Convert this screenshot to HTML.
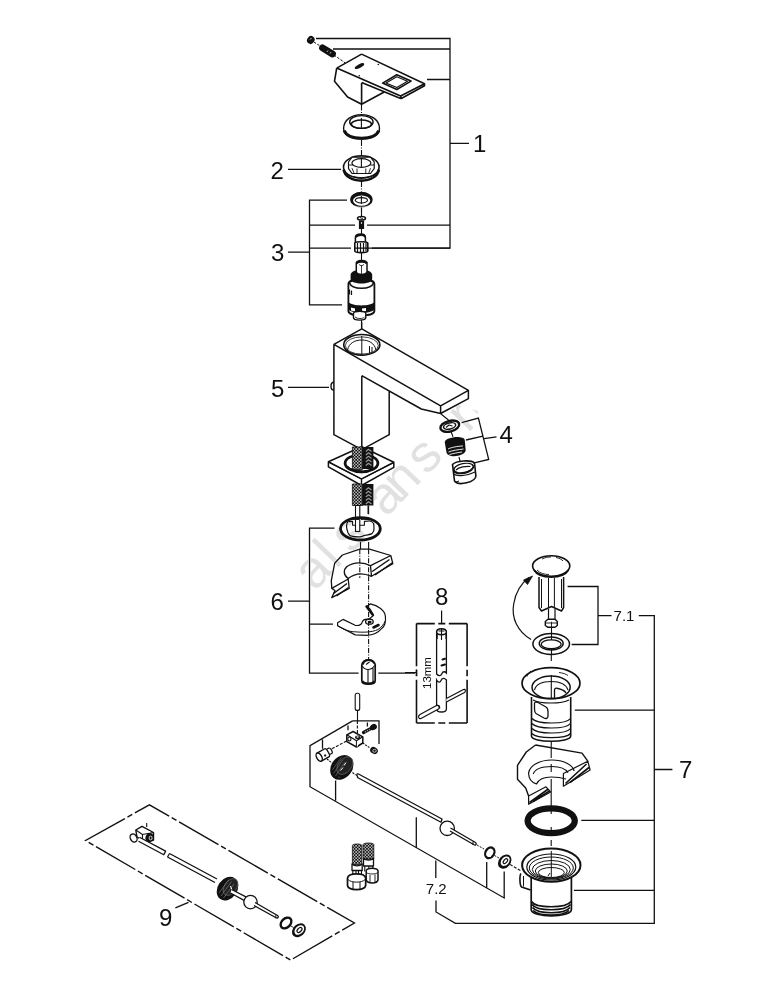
<!DOCTYPE html>
<html><head><meta charset="utf-8">
<style>
html,body{margin:0;padding:0;background:#fff;width:775px;height:1000px;overflow:hidden}
svg{display:block}
text{font-family:"Liberation Sans",sans-serif;fill:#111}
</style></head><body>
<svg width="775" height="1000" viewBox="0 0 775 1000">
<defs>
<pattern id="braid" width="3.1" height="3.1" patternUnits="userSpaceOnUse" x="0.4" y="0.3">
<rect width="3.1" height="3.1" fill="#111"/>
<circle cx="0.78" cy="0.78" r="0.72" fill="#fff"/>
<circle cx="2.33" cy="2.33" r="0.72" fill="#fff"/>
</pattern>
<clipPath id="wmclip"><path d="M0 404H455L478 411V1000H0Z"/></clipPath>
</defs>



<!-- PART: handle (1) -->
<g id="handle" fill="none" stroke="#111" stroke-width="1.6" stroke-linejoin="round">
<ellipse cx="310.8" cy="40" rx="3.6" ry="4.1" transform="rotate(35 310.8 40)" fill="#111" stroke="none"/>
<path d="M310 39.5l1.5 -1.5" stroke="#fff" stroke-width="0.9"/>
<path d="M322.5 47.8L332.5 54" stroke="#111" stroke-width="6.8" stroke-linecap="round"/>
<path d="M327 52L328 50.5M330 53.5L331 52" stroke="#fff" stroke-width="0.7"/>
<path d="M313.9 42L320 46M334 55L345.2 62.9" stroke-width="1" stroke-dasharray="2.5 1.5"/>
<path d="M361.6 54.1L424.5 83.7V85.8L401.3 98.5L400.6 96L424.5 83.7M336.7 68.1L361.6 54.1M336.7 68.1L400.6 96M361.6 82.6L400.6 98.4"/>
<path d="M336.7 68.1L334.5 81.2L347.6 97L361.6 104.2L384.2 92M361.6 83V104.2"/>
<path d="M382.6 83.1L396.8 74.7L411 81.1L396.8 89.5Z"/>
<path d="M386 83L396.8 76.8L407.5 81.2L396.8 87.4Z" stroke-width="1.1"/>
<ellipse cx="359.5" cy="66.1" rx="5.2" ry="1.8" transform="rotate(-27 359.5 66.1)" fill="#111" stroke="none"/>
<circle cx="378.3" cy="64.5" r="0.8" fill="#111" stroke="none"/>
<circle cx="359.3" cy="75.7" r="0.8" fill="#111" stroke="none"/>
</g>

<!-- PART: rings upper -->
<g id="rings1" fill="none" stroke="#111" stroke-width="1.4">
<path d="M361.5 104.5V115M361.5 140V155.5M361.5 181V191.5M361.5 208V212" stroke-width="1.1" stroke-dasharray="6 1.5 1 1.5"/>
<path d="M343.6 128.5C343.6 120 351.5 114.6 361.5 114.6S379.5 120 379.5 128.5C379.5 135 371.5 139 361.5 139S343.6 135 343.6 128.5Z" fill="#fff"/>
<path d="M344.2 130.5C346 135.5 353 138.2 361.5 138.2S377 135.5 378.8 130.5" stroke-width="3"/>
<ellipse cx="361.4" cy="122" rx="11.7" ry="6.4"/>
<ellipse cx="361.4" cy="124.2" rx="10" ry="4.2"/>
<path d="M361.4 118V128" stroke-width="1.1"/>
<!-- nut 2 -->
<ellipse cx="361.3" cy="167" rx="17.8" ry="11.2" fill="#fff" stroke-width="1.6"/>
<path d="M343.7 169.5C344.5 176 352 180.6 361.3 180.6S378 176 378.9 169.5" stroke-width="2.6"/>
<path d="M345 172C348 175.5 354 177.5 361.3 177.5S374.5 175.5 377.5 172" stroke-width="1"/>
<path d="M348.5 162L352 157.2H370.5L374.2 162V168.5L370.5 173.5H352L348.5 168.5Z" fill="#fff" stroke-width="1.2"/>
<path d="M348.5 165H374.2M352 168.2L354 173M370.5 168.2L368.8 173M357 168.5V173.5M365.8 168.5V173.5" stroke-width="0.9"/>
<ellipse cx="361.4" cy="163" rx="9.5" ry="4.3" fill="#fff" stroke-width="1.2"/>
<path d="M361.4 159V167" stroke-width="1.1"/>
<!-- small ring 3 -->
<ellipse cx="361.4" cy="199.7" rx="11.2" ry="7.9" fill="#111" stroke="none"/>
<ellipse cx="361.6" cy="200.6" rx="8.6" ry="5.2" fill="#fff" stroke="none"/>
<ellipse cx="361.4" cy="200.2" rx="6.6" ry="3.3" fill="#111" stroke="none"/>
<ellipse cx="361.4" cy="200.3" rx="5.6" ry="2.1" fill="#fff" stroke="none"/>
<path d="M351.5 204C354 206.5 358 207.2 361.4 207.2S369 206.5 371.3 204" stroke="#fff" stroke-width="0.7"/>
<path d="M361.4 196V204" stroke-width="1.1"/>
</g>

<!-- PART: screw, hex, cartridge -->
<g id="cart" fill="none" stroke="#111" stroke-width="1.4">
<path d="M361.5 207.5V216M361.5 228V235M361.5 253V261M361.5 320V329" stroke-width="1.1"/>
<path d="M357.5 218.5C357.5 215.8 365.5 215.8 365.5 218.5C365.5 220.5 357.5 220.5 357.5 218.5Z" fill="#fff" stroke-width="1.5"/>
<path d="M360 217.5L363 219" stroke-width="0.9"/>
<path d="M359.5 220.5V228.5H363.5V220.5" fill="#111" stroke-width="1.2"/>
<path d="M360.6 223l0.9 -0.9 0.9 0.9 -0.9 0.9z" fill="#fff" stroke="none"/>
<path d="M355.4 237.5C355.4 234.5 358 234 361 234S365.4 235 365.4 237.5V242.5H355.4Z" fill="#fff" stroke-width="1.5"/>
<path d="M355.6 237C357 235.5 359 235 361 235S364.5 235.5 365.2 237" stroke-width="2"/>
<path d="M354.8 243C354.8 241.5 367.8 241 367.8 243V251C367.8 253.2 354.8 253.2 354.8 251Z" fill="#fff" stroke-width="1.6"/>
<path d="M357.5 243V252M360.5 243V252.5M363.5 243V252.5M366 243V251.5" stroke-width="1.2"/>
<!-- cartridge -->
<path d="M348.4 284C348.4 278 374.4 278 374.4 284V311C374.4 317 348.4 317 348.4 311Z" fill="#fff" stroke-width="1.8"/>
<path d="M350.6 275C350.6 268 372.2 268 372.2 275V279C372.2 285 350.6 285 350.6 279Z" fill="#111" stroke="none"/>
<path d="M349.5 283C352 290 371 290 373.5 283" stroke-width="1.6"/>
<path d="M356.3 263.5C356.3 259.5 367 259.5 367 263.5V272.5C365 275 358 275 356.3 272.5Z" fill="#fff" stroke-width="1.5"/>
<path d="M356.5 263.5C358 261 365.5 261 366.8 263.5" stroke-width="2.4"/>
<path d="M361.5 265V274M359 264.5L361.5 266L364 264.5" stroke-width="0.8"/>
<path d="M348.4 302C352 306.5 371 306.5 374.4 302V309.5C371 314 352 314 348.4 309.5Z" fill="#111" stroke="none"/>
<path d="M351 307.5L355 308.5V311.5L351 310.5Z" fill="#fff" stroke="none"/>
<path d="M362 308.5L366 308V311L362 311.5Z" fill="#fff" stroke="none"/>
<path d="M353.5 313.5C353.5 310.5 365.8 310.5 365.8 313.5V317.5C365.8 321 353.5 321 353.5 317.5Z" fill="#fff" stroke-width="1.4"/>
<path d="M355 317C357 319 363 319 364.5 317" stroke-width="0.9"/>
<path d="M349.5 289.5V294.5M351.5 290.5V295" stroke-width="1.2"/>
</g>

<!-- PART: faucet body -->
<g id="body" fill="none" stroke="#111" stroke-width="1.5" stroke-linejoin="round">
<path d="M361.8 328.8L468.4 390.3V398.7L440.6 413.5L421.3 409L389 391.2V434.7L361.8 449.7L333.9 434.7V344.3Z" fill="#fff" stroke="none"/>
<path d="M361.8 328.8L468.4 390.3V398.7L440.6 413.5V405.8L468.4 390.3M333.9 344.3L361.8 328.8M333.9 344.3L440.6 405.8M333.9 344.3V434.7L361.8 449.7L389.2 434.7V391M361.8 375.7V449.7M361.8 375.7L421.3 409L440.6 413.5"/>
<ellipse cx="361.8" cy="344.8" rx="18.1" ry="10.3" stroke-width="1.6"/>
<ellipse cx="361.8" cy="345.5" rx="16.5" ry="8.6" stroke-width="0.8"/>
<path d="M347.5 350C349 343 355 340 361.8 340S374.5 343 376 350" stroke-width="1"/>
<path d="M346.6 349.5C350 354 355.5 355 361.8 355" stroke-width="0.8"/>
<path d="M361.8 336V355M369.5 346V353.5M372 347V353" stroke-width="1"/>
<path d="M333.9 382.3C330 382.3 330 390 333.9 390" stroke-width="1.4"/>
<path d="M361.8 322V329" stroke-width="1.2"/>
</g>
<!-- PART: base plate + hoses -->
<g id="plate" fill="none" stroke="#111" stroke-width="1.4" stroke-linejoin="round">
<path d="M328.4 461.8L361.6 446.8L393.8 462.3V467.4L361.5 485.5L328.4 466.8Z" fill="#fff" stroke-width="1.5"/>
<path d="M328.4 461.8L361.5 479L393.8 462.3M361.5 479V485.5"/>
<ellipse cx="361.5" cy="463.2" rx="16.4" ry="8.6" stroke-width="2.8"/>
<path d="M348 466C350 469.5 355 470.6 361.5 470.6" stroke-width="0.8"/>
<rect x="352.4" y="447" width="10" height="22.5" fill="url(#braid)" stroke="#111" stroke-width="0.8"/>
<rect x="362.2" y="447" width="11.2" height="22" fill="#111" stroke="none"/>
<rect x="352.4" y="484" width="10" height="21.5" fill="url(#braid)" stroke="#111" stroke-width="0.8"/>
<rect x="362.2" y="484" width="11.2" height="21.5" fill="#111" stroke="none"/>

<g stroke="#9a9a9a" stroke-width="1.1" fill="none">
<path d="M365.8 451.5L368.5 449.3L371.5 451.5M365.8 455L368.5 452.8L371.5 455M365.8 458.5L368.5 456.3L371.5 458.5M365.8 462L368.5 459.8L371.5 462M365.8 465.5L368.5 463.3L371.5 465.5M365.8 490L368.5 487.8L371.5 490M365.8 493.5L368.5 491.3L371.5 493.5M365.8 497L368.5 494.8L371.5 497M365.8 500.5L368.5 498.3L371.5 500.5M365.8 504L368.5 501.8L371.5 504"/>
</g>
<path d="M328.4 461.8L361.5 479L393.8 462.3" stroke-width="1.4"/>
<circle cx="361.5" cy="472" r="1.3" fill="#111" stroke="none"/>
<path d="M356.3 505.5V531M359.5 505.5V531M368 505.5V514" stroke-width="1"/>
</g>

<!-- PART: group 6 -->
<g id="g6" fill="none" stroke="#111" stroke-width="1.3" stroke-linejoin="round">
<path d="M355.5 505.5H359.8V531.5H355.5Z" fill="#fff" stroke-width="1.1"/>
<path d="M368.6 505.5V514.3" stroke-width="1.1"/>
<path d="M347.6 521.8C346.5 524 346.5 529 348 532.7C349 535 350 536 351.8 536.1C355 537 358 537 360.2 536.9C362 536.5 364 535.5 366 535.2C368 534.7 370 534.5 372 533.6C373.5 532 374.2 530 374 528.5C374 526.5 374 525 373.6 523.5C372.5 522 371 521 369.4 521" stroke-width="1.2"/>
<path d="M347.6 521.8L352.6 521.4V525.2H355.2M359.8 525.2H364.4V521.4L369.4 521M349 519.8C352 519 356 519.2 359 519.5M361 519.4C364 519.2 367 519.4 370 519.8" stroke-width="1.1"/>
<ellipse cx="360.4" cy="528.8" rx="19.9" ry="11.2" stroke-width="2.8"/>
<path d="M360.5 542V549M368.6 542V549" stroke-width="1.1"/>
<!-- countertop piece -->
<path d="M342.4 555L359.8 549.2H369.5L390.8 555.5L392.8 563.7L371.5 576.3C365 574 356 572.5 348.2 577.8L349.2 588.4L331.8 597.6L331.3 580.7L334.7 563.2Z" fill="#fff" stroke="none"/>
<path d="M342.4 555L359.8 549.2H369.5L390.8 555.5M342.4 555L334.7 563.2L331.3 580.7L331.8 588.4"/>
<path d="M390.8 555.5L392.8 563.7L371.5 576.3L370.5 565.7L390.8 555.5M370.5 565.7C364 562 354 561.5 347 566.5C343 570 343.5 575.5 348.2 578.5C355 573 364 573 371.5 576.3"/>
<path d="M331.8 588.4L348.2 579L349.2 588.4L331.8 597.6L335 590.5Z"/>
<path d="M372.2 571.5L389.5 559.5M375 575L392 563M333.5 593.5L347 583.5M336.5 596L348.5 587.5" stroke-width="1.5"/>
<path d="M359.8 549.2V578M368.6 549.2V603" stroke-width="1.1" stroke-dasharray="5 1.5 1 1.5"/>
<!-- C clip -->
<path d="M337.6 622.7L343 619.4L355.2 625.3C359 626 362 624.5 362.2 622C363 619.5 366 618.8 369 619.2L373.6 615.2L370 609L366.5 606.5L370.3 603.9C378 605.5 385 610.5 385.4 616.5C386 622 384 626.5 382 628.2C378 633 372 635.3 366.9 635.3L355.2 634.9L337.6 625.7Z" fill="#fff" stroke-width="1.2"/>
<path d="M337.6 625.7C343 629.5 350 632 355.2 631.8C362 632.5 372 632.5 378 629.5C381.5 627 383.5 625 385.2 621" stroke-width="1"/>
<ellipse cx="369.4" cy="621.7" rx="3.8" ry="2.5" stroke-width="1.3"/>
<ellipse cx="369.6" cy="622" rx="2" ry="1.2" fill="#111" stroke="none"/>
<path d="M373.5 627.5L378.5 625" stroke-width="2.6" stroke-linecap="round"/>
<path d="M366.5 606.5L372.5 614.5" stroke-width="2.4" stroke-linecap="round"/>
<path d="M368.6 603V661" stroke-width="1.1" stroke-dasharray="5 1.5 1 1.5"/>
<!-- nut -->
<path d="M361.8 665C361.8 658.5 375.2 658.5 375.2 665V680.5C375.2 685.5 361.8 685.5 361.8 680.5Z" fill="#fff" stroke-width="1.7"/>
<path d="M362.3 666C364 669 366.5 669.5 368 669.5C370.5 669.5 373 668 374.6 665.5M368 669.5V684.5M373 668V682.5" stroke-width="1.1"/>
<path d="M362.8 664.5C363.5 661 366 660 368.5 660C371.5 660 373.5 661.5 374.2 663.5" stroke-width="2.2"/>
<path d="M366 664.5L369.5 662" stroke-width="1.1"/>
<path d="M362.5 681C364 684 372.5 684.5 374.5 681" stroke-width="1.8"/>
<!-- pin -->
<rect x="355.2" y="693.2" width="4.5" height="17.2" rx="2" fill="#fff" stroke-width="1.1"/>
<path d="M357.5 710.5V721" stroke-width="1.1"/>
</g>

<!-- PART: box 8 -->
<g id="g8" fill="none" stroke="#111" stroke-width="1.6">
<path d="M416.5 623.6H467.1M416.5 723H467.1" stroke-dasharray="18.3 3.5 7 3.5 19 0"/>
<path d="M416.5 623.6V723M467.1 623.6V723" stroke-dasharray="42.7 3.5 6.5 3.5 44 0"/>
<path d="M405 672.5H416.5M416.5 669.5V676" stroke-width="1.2"/>
<path d="M436.6 633V674C439 676.5 441 676 442 673.5C443 671 445 671.5 446.4 673V633" fill="#fff" stroke-width="1.3"/>
<path d="M436.6 680V709C436.6 713 446.4 713 446.4 709V680C444 677.5 442 678 441 680.5C440 683 438 682.5 436.6 680Z" fill="#fff" stroke-width="1.3"/>
<path d="M436.6 632C436.6 627.5 446.4 627.5 446.4 632C446.4 635.5 436.6 635.5 436.6 632Z" fill="#fff" stroke-width="1.5"/>
<path d="M438.5 631H444.5M441.5 629V635M437.2 634V639M446 634V639M441.5 635V640" stroke-width="1.1"/>
<path d="M441.5 665.5L445 664.5M442.5 659.5L445 658.8" stroke-width="2" stroke-linecap="round"/>
<path d="M446.4 698.5L463.5 689.5C465.5 688.5 466 691.5 464.5 692.5L446.4 702" fill="#fff" stroke-width="1.2"/>
<path d="M420 714.5L436.5 705.5C439 704.5 440.5 707.5 438.5 709L421 718.5C418.5 719.5 417.5 716 420 714.5Z" fill="#fff" stroke-width="1.2"/>
<path d="M436.5 705.5C438.5 705 440 706.5 439.5 708.5" stroke-width="1.4"/>
<path d="M441.6 610.6V623.6" stroke-width="1.2"/>
</g>
<text x="0" y="0" transform="translate(430.8,689) rotate(-90)" style="font-size:11.5px">13mm</text>

<!-- PART: group 7.1 popup -->
<g id="g71" fill="none" stroke="#111" stroke-width="1.4" stroke-linejoin="round">
<path d="M539 577V607.5L541.5 611L551.5 606.5L561.5 611L563.6 607.5V577" fill="#fff" stroke-width="1.5"/>
<path d="M541.5 579V608M561.5 579V608M548.5 578V607M554.4 578V607" stroke-width="1"/>
<path d="M548.5 609V620M555 609V620" stroke-width="1.2"/>
<path d="M545.3 621.5L548 619.3H555L557.3 621.5V625.5L555 627.3H548L545.3 625.5Z" fill="#fff" stroke-width="1.4"/>
<path d="M551.5 621.8V627.2M545.5 623H557" stroke-width="0.9"/>
<ellipse cx="551.2" cy="566" rx="18.6" ry="10.2" fill="#fff" stroke-width="1.6"/>
<path d="M534 570C537 575 544 577 551.2 577S565.5 575 568.5 570" stroke-width="1.8"/>
<path d="M537 570C540 573.5 545 574.5 549 574.5M542 559C545 557.5 548 557 551 557M556 557.5C559 558 562 559.5 563 561" stroke-width="0.9"/>
<path d="M551.5 627.3V633.6" stroke-width="1.1"/>
<ellipse cx="551.2" cy="644" rx="18.3" ry="10.4" fill="#fff" stroke-width="1.5"/>
<ellipse cx="551.2" cy="643.5" rx="12" ry="6.5" stroke-width="1.4"/>
<ellipse cx="551.2" cy="644.2" rx="10" ry="4.4" stroke-width="1.3"/>
<path d="M551.5 633V640M551.5 649V655" stroke-width="1.1"/>
<path d="M531.1 639.4C518 632 511 618 513.7 604C515.5 593 521.5 583 529 577.5" stroke-width="1.2"/>
<path d="M532.5 576L523.5 580L527.5 584.5Z" fill="#111" stroke-width="0.8"/>
</g>

<!-- PART: group 7 -->
<g id="g7" fill="none" stroke="#111" stroke-width="1.4" stroke-linejoin="round">
<!-- upper waste -->
<path d="M531.5 697V736C531.5 743 570.7 743 570.7 736V697" fill="#fff" stroke-width="1.6"/>
<path d="M532 718.5C537 724.5 566 724.5 570.5 718.5M532 723.5C537 729.5 566 729.5 570.5 723.5M532 728.5C537 734.5 566 734.5 570.5 728.5M532 733.5C537 739 566 739 570.5 733.5" stroke-width="1.2"/>
<path d="M534.5 704.5C534 702 536 701.5 538 702.5L546 707C548 708 548 710 548 712V716C548 718.5 546 719 544 718L536 713.5C534.5 712.5 534.5 711 534.5 709Z" stroke-width="1.3"/>
<path d="M533 700C540 704 562 704 569 700" stroke-width="1.2"/>
<ellipse cx="551" cy="683.2" rx="29" ry="15.5" fill="#fff" stroke-width="1.7"/>
<ellipse cx="551.1" cy="687.3" rx="19.1" ry="11.3" stroke-width="1.5"/>
<path d="M534.5 690C536 684 543 681.5 551.2 681.5S566 684 568 690" stroke-width="1.1"/>
<path d="M554.5 698.5V690C554.5 688 556 688 558 688.5C562 689.5 565 691 566 693" stroke-width="1.3"/>
<path d="M531 671C529 672.5 527.5 674.5 527 676.5M559 672.5C563 673 566 674 568 675.5" stroke-width="0.9"/>
<path d="M551.3 655V661M551.3 675V698" stroke-width="1.1"/>
<path d="M551.3 742V745" stroke-width="1.1"/>
<!-- countertop 2 -->
<path d="M535.5 745L582 753.1L587.8 761.2L590.1 770L563.4 786.2C562 783 558 780 551.5 780C545 780 541.5 783 540.5 785.5L550.6 792L528.6 804.2L528.6 796L525.7 788L517.5 779.2V765.3L526.3 752Z" fill="#fff" stroke="none"/>
<path d="M535.5 745L582 753.1L587.8 761.2M535.5 745L526.3 752L517.5 765.3V779.2L525.7 788L528.6 796"/>
<path d="M528.6 796L546 786.8L550.6 792L528.6 804.2Z" fill="#fff" stroke-width="1.2"/>
<path d="M529.5 802.5L548.3 789M533 801.5L549.5 791" stroke-width="1.6"/>
<path d="M563.4 773.5L587.8 761.2L590.1 770L563.4 786.2Z" fill="#fff" stroke-width="1.2"/>
<path d="M565.5 783.5L586.5 764M570 782.5L589 767.5" stroke-width="1.6"/>
<path d="M528.6 772.8C530 765 540 760 551.8 760S573 765 574 771M566 779C561 777.5 556.5 777 551.5 777C544.5 777 538.5 779.5 536.5 784C531 782 528.5 777.5 528.6 772.8" stroke-width="1.2"/>
<path d="M533.2 774C535 769 542 766.5 551.8 766.5S566 769 568 772.8" stroke-width="1.1"/>
<path d="M551.2 745V758M551.2 764V772M551.2 779V806" stroke-width="1.1"/>
<!-- black gasket -->
<ellipse cx="551.2" cy="820.8" rx="23.6" ry="12.4" stroke-width="6.3"/>
<path d="M551.2 806V814M551.2 827V835M551.2 840V846" stroke-width="1.1"/>
<!-- lower waste -->
<path d="M521 873.5C519.5 875 519.5 885 521.5 887L530.6 890" fill="#fff" stroke-width="1.6"/>
<path d="M523.5 876V886.5" stroke-width="1"/>
<path d="M531.2 878V909.5C531.2 918 571.4 918 571.4 909.5V878" fill="#fff" stroke-width="1.7"/>
<path d="M531.5 901.5C536 908.5 566 908.5 571 901.5M532 904.5C537 911.5 565 911.5 570.5 904.5M532.5 907.5C538 914.5 564.5 914.5 570 907.5M533 910.5C539 916.5 563 916.5 569 910.5" stroke-width="1.7"/>
<ellipse cx="551.3" cy="865.2" rx="29.2" ry="16.6" fill="#fff" stroke-width="2"/>
<ellipse cx="551.3" cy="867" rx="24.5" ry="13" stroke-width="1.2"/>
<ellipse cx="551.3" cy="868" rx="22" ry="11" stroke-width="1"/>
<ellipse cx="551.3" cy="869.5" rx="19" ry="9" stroke-width="1"/>
<ellipse cx="551.3" cy="871" rx="16" ry="7" stroke-width="1"/>
<ellipse cx="551.3" cy="872.5" rx="13" ry="5" stroke-width="1"/>
<path d="M551.3 851V877M548 876L550 873" stroke-width="1"/>
<path d="M510 864.4L521.4 871.1" stroke-width="1.1" stroke-dasharray="3 1.5"/>
</g>

<!-- PART: group 7.2 rod -->
<g id="g72" fill="none" stroke="#111" stroke-width="1.3" stroke-linejoin="round">
<path d="M357.4 721V737" stroke-width="1.1" stroke-dasharray="3 1.5"/>
<!-- clamp block -->
<path d="M346.8 734.8L353.1 731.5L362.8 736.8V743L356.5 747L346.8 741.6Z" fill="#fff" stroke-width="1.5"/>
<path d="M346.8 734.8L356.5 740.7L362.8 736.8M356.5 740.7V747" stroke-width="1.2"/>
<ellipse cx="357.6" cy="737.4" rx="2.6" ry="1.8" fill="#111" stroke="none"/>
<ellipse cx="357.6" cy="737" rx="1.2" ry="0.8" fill="#fff" stroke="none"/>
<ellipse cx="349.4" cy="739" rx="1.6" ry="2" stroke-width="1.1"/>
<path d="M357.4 741V746.5" stroke="#fff" stroke-width="1"/>
<!-- screw top right -->
<path d="M363.5 732.5L371 728.5" stroke="#111" stroke-width="3.3" stroke-linecap="round"/>
<ellipse cx="373.5" cy="727" rx="3.5" ry="3" transform="rotate(-30 373.5 727)" fill="#111" stroke="none"/>
<path d="M365 731L366 732.5M367 730L368 731.5M369 729L370 730.5" stroke="#fff" stroke-width="0.7"/>
<!-- small screw bottom -->
<path d="M362.8 743L370 748" stroke-width="1.1" stroke-dasharray="2 1"/>
<ellipse cx="374" cy="750.5" rx="4" ry="3.3" transform="rotate(30 374 750.5)" fill="#111" stroke="none"/>
<ellipse cx="374.5" cy="750.8" rx="1.8" ry="1.4" stroke="#fff" stroke-width="0.7"/>
<!-- left cylinder -->
<path d="M331.8 752.5L325.5 755.5M346.5 741L331.5 749" stroke-width="1.1" stroke-dasharray="3 1.5"/>
<g transform="translate(319.2 757.1) rotate(-29.5)">
<path d="M9 -3V3H13C14.5 3 14.5 -3 13 -3Z" fill="#fff" stroke-width="1.2"/>
<path d="M0 -4.5H9C10.8 -4.5 10.8 4.5 9 4.5H0Z" fill="#fff" stroke-width="1.4"/>
<ellipse cx="0" cy="0" rx="2.5" ry="4.5" fill="#fff" stroke-width="1.4"/>
<circle cx="6" cy="1.5" r="1.1" fill="#111" stroke="none"/>
</g>
<path d="M327 759L332 763" stroke-width="1.1" stroke-dasharray="2 1"/>
<!-- knob -->
<ellipse cx="341.8" cy="767.4" rx="10.5" ry="13.3" transform="rotate(38 341.8 767.4)" fill="#111" stroke="none"/>
<ellipse cx="344.8" cy="765.6" rx="6.6" ry="10" transform="rotate(38 344.8 765.6)" fill="#222" stroke="#666" stroke-width="0.7"/>
<path d="M332.5 770L341.5 757M333.5 773.5L343 759.5M335.5 776L344.5 762.5M338.5 778L339.5 776.5" stroke="#777" stroke-width="0.6"/>
<path d="M340.5 770.5L343 767.5M344 765.5L346 762.5" stroke="#fff" stroke-width="1"/>
<!-- rod -->
<path d="M352.5 772.5L355.5 775" stroke-width="1.1" stroke-dasharray="2 1"/>
<path d="M357.5 776.2C356 775.5 356.8 773.2 358.5 774L442 819L441 822.2L357.5 777.5Z" fill="#fff" stroke-width="1.3"/>
<circle cx="447.2" cy="828.3" r="7.2" fill="#fff" stroke-width="1.3"/>
<path d="M450.5 828L475.5 842.5C477 843.5 476 845.5 474.5 845L450 831" fill="#fff" stroke-width="1.3"/>
<path d="M473 841.5V845" stroke-width="1"/>
<path d="M477 845L484 849" stroke-width="1" stroke-dasharray="2 1.2"/>
<ellipse cx="489.8" cy="852.8" rx="4.3" ry="5.6" transform="rotate(30 489.8 852.8)" stroke-width="2.3"/>
<path d="M494.5 855.5L499 858" stroke-width="1" stroke-dasharray="2 1.2"/>
<ellipse cx="504.7" cy="861.6" rx="5.9" ry="7.8" transform="rotate(40 504.7 861.6)" fill="#111" stroke="none"/>
<ellipse cx="505.2" cy="861.2" rx="3.8" ry="5.4" transform="rotate(40 505.2 861.2)" fill="#fff" stroke="none"/>
<ellipse cx="505.4" cy="861.2" rx="1.6" ry="2.8" transform="rotate(40 505.4 861.2)" stroke-width="1.2"/>
<!-- hose connectors -->
<path d="M363.1 844.5C363.1 842.5 373.8 842.5 373.8 844.5V859H363.1Z" fill="url(#braid)" stroke="#111" stroke-width="0.8"/>
<path d="M363.5 858.5C366 860.5 371 860.5 373.5 858.5V866H363.5Z" fill="#fff" stroke-width="1.3"/>
<path d="M364.8 866V871.5M372.8 866V871.5M368.8 866V871.5" stroke-width="1.1"/>
<path d="M366.2 870.5C367.5 867.5 376.5 867.5 378 870.5V880C377 884 367.5 884 366.2 880Z" fill="#fff" stroke-width="1.5"/>
<path d="M366.5 872.5C368 874.5 376 874.5 377.8 872.5M370 875V883M375 874.5V882.5" stroke-width="0.9"/>
<path d="M352.4 845.5C352.4 843.5 361.8 843.5 361.8 845.5V864.5H352.4Z" fill="url(#braid)" stroke="#111" stroke-width="0.8"/>
<path d="M352 864C354.5 866.5 359.5 866.5 362.2 864V870.5H352Z" fill="#fff" stroke-width="1.3"/>
<path d="M352.8 870.5V877M361.5 870.5V877M356 871V877M358.5 871V877" stroke-width="1.1"/>
<path d="M347.5 878C348.5 872.5 364.7 872.5 365.7 878V885.5C364.5 891 348.5 891 347.5 885.5Z" fill="#fff" stroke-width="1.7"/>
<path d="M348 879.5C351 883 362 883 365.2 879.5M353 882V889.5M360 882V889.5" stroke-width="1"/>

</g>

<!-- PART: group 9 -->
<g id="g9" fill="none" stroke="#111" stroke-width="1.3" stroke-linejoin="round">
<path d="M146.7 823V827" stroke-width="1.1"/>
<path d="M135.8 830L142 826.3L153.5 832.5V840L147 842.5L137 837Z" fill="#fff" stroke-width="1.4"/>
<path d="M135.8 830L142.5 834.5L153.5 832.5M142.5 834.5V842" stroke-width="1.1"/>
<ellipse cx="149.5" cy="837.5" rx="4" ry="4.6" transform="rotate(30 149.5 837.5)" fill="#111" stroke="none"/>
<ellipse cx="150.6" cy="838" rx="1.5" ry="1.9" stroke="#fff" stroke-width="0.8"/>
<path d="M144 832.5L150 831.5" stroke="#fff" stroke-width="1"/>
<ellipse cx="133.6" cy="838" rx="3.2" ry="4.3" transform="rotate(-30 133.6 838)" fill="#fff" stroke-width="1.4"/>
<path d="M139.5 837.3L165.6 851.1L163.8 854.7L138.5 841.2" fill="#fff" stroke-width="1.3"/>
<path d="M169.5 853.5L217 879M167.5 857L215 882.5" stroke-width="1.3"/>
<path d="M169.5 853.5L167.5 857" stroke-width="1.2"/>
<ellipse cx="227.5" cy="888.7" rx="9.8" ry="12.7" transform="rotate(35 227.5 888.7)" fill="#111" stroke="none"/>
<ellipse cx="230.5" cy="887" rx="6" ry="9.4" transform="rotate(35 230.5 887)" fill="#222" stroke="#666" stroke-width="0.7"/>
<path d="M219 893L229 879.5M221 896L231.5 881.5M223.5 898L234 884" stroke="#888" stroke-width="0.6"/>
<path d="M230.5 886L232 890" stroke="#fff" stroke-width="1"/>
<path d="M231.5 889.5L246 896.9L244.5 900.6L230.5 893" fill="#fff" stroke-width="1.3"/>
<circle cx="250.5" cy="902.1" r="6.7" fill="#fff" stroke-width="1.3"/>
<path d="M255 902.5L277.5 915.5C279 916.5 278 918.5 276.5 918L254 905.5" fill="#fff" stroke-width="1.3"/>
<path d="M275.8 915V918.3" stroke-width="0.9"/>
<ellipse cx="286" cy="923" rx="4.4" ry="6.2" transform="rotate(45 286 923)" stroke-width="2.4"/>
<path d="M290 925.5L293.5 927.5" stroke-width="0.9"/>
<ellipse cx="298.9" cy="930.3" rx="6" ry="7.8" transform="rotate(45 298.9 930.3)" fill="#111" stroke="none"/>
<ellipse cx="299.3" cy="930" rx="4" ry="5.6" transform="rotate(45 299.3 930)" fill="#fff" stroke="none"/>
<ellipse cx="299.5" cy="930" rx="1.8" ry="3" transform="rotate(45 299.5 930)" stroke-width="1.2"/>
</g>

<!-- PART: aerator 4 -->
<g id="g4" fill="none" stroke="#111" stroke-width="1.3" stroke-linejoin="round">
<path d="M441 414L448.5 420M451 431.5L453 436.7M459 457L460.5 463" stroke-width="1.1"/>
<ellipse cx="449.8" cy="426.2" rx="9.6" ry="5.3" transform="rotate(-14 449.8 426.2)" stroke-width="2.4"/>
<ellipse cx="449.6" cy="426" rx="6.2" ry="3" transform="rotate(-14 449.6 426)" stroke-width="1.5"/>
<path d="M446 427.5L449 425L452.5 426" stroke-width="1.2"/>
<path d="M444.8 442.5C444 437.5 463 434.5 464.8 440L465.7 450.5C465 456 448.5 459 446.5 452.5Z" fill="#111" stroke="none"/>
<path d="M448 449C451 447.5 458 446 463 446M448.5 452C452 450.5 459 449.5 463.5 449M449.5 454.5C453 453.5 458 452.5 462 452" stroke="#fff" stroke-width="0.9"/>
<path d="M452.5 464.5C456 460.5 471 459.5 474.5 463L475.9 476C475.5 482 458.5 486.5 454.5 481Z" fill="#fff" stroke-width="1.6"/>
<ellipse cx="463.5" cy="468.5" rx="11" ry="5.5" transform="rotate(-12 463.5 468.5)" fill="#111" stroke="none"/>
<ellipse cx="463.5" cy="468" rx="9" ry="3.8" transform="rotate(-12 463.5 468)" fill="#fff" stroke="none"/>
<path d="M456 470C459 467 466 466 470.5 466.5" stroke-width="1.2"/>
<path d="M453.5 474C457 477 468 475.5 475 472" stroke-width="1.1"/>
<path d="M456 482L459 481" stroke-width="1"/>
</g>
<!-- brackets / leader lines -->
<g id="brk" fill="none" stroke="#111" stroke-width="1.3">
<path d="M316 38.5H450V248.2H355M333 49H450M427 79.5H450M450 143.4H469"/>
<path d="M288 169.4H341"/>
<path d="M347 200.1H309.5V304.8H342M309.5 225.1H355M367 225.1H450M309.5 248.2H351M372 248.2H450M288 252.2H309.5"/>
<path d="M288 387.3H329"/>
<path d="M461.6 422.6L478.4 418L488.7 459.4L473.2 463.2M466 440L482.9 436.1M484.2 438.7L496.5 436.8"/>
<path d="M334.5 528.2H309.5V673.2H358.6M378.3 673.2H415M309.5 624.1H333M288 601.2H309.5"/>

<path d="M567.6 586.5H598V644.5H571.7M598 615.6H611.5M638.8 615.6H654.3V923.4H455.4L436 912V900.5M574.8 710.1H654.3M654.3 769.5H672.4M581.3 820.3H654.3M573.9 890.3H654.3"/>
<path d="M352.6 720.9H379V744.1M352.6 720.9L310 745.7V786.7L504.2 898V871.4M322.5 739.5V748.8M348 725.5V730.2M367.4 722.5V726.5M335.6 780.5V800.6M416.3 817.2V847.4M435.8 860.5V878M486.7 862V887.6"/>
<path d="M175.4 907.9L188.5 902.3"/>
</g>
<g id="dashbox" fill="none" stroke="#111" stroke-width="1.4" stroke-dasharray="45.5 3 5.5 3" stroke-dashoffset="22.75">
<path d="M149.4 804.8L354.4 923L290.6 960.1L85.6 840.5Z"/>
</g>
<!-- labels -->
<g font-size="24">
<text x="473" y="151.5">1</text>
<text x="270.5" y="178.6">2</text>
<text x="271" y="261">3</text>
<text x="499.5" y="443">4</text>
<text x="271" y="396.6">5</text>
<text x="270.5" y="609.8">6</text>
<text x="679" y="778">7</text>
<text x="435" y="605">8</text>
<text x="159" y="926">9</text>
</g>
<g font-size="16">
<text x="613.6" y="621" font-size="15">7.1</text>
<text x="425.8" y="893.5" font-size="15">7.2</text>
</g>
<g id="wm" style="mix-blend-mode:darken" clip-path="url(#wmclip)">
<text x="-206.9 -175.9 -154.4 -104 -79.4 -45.7 -16 13.5 30.8" y="0" transform="translate(458.4,443.1) rotate(-46)" style="fill:#e1e1e1;font-size:52px">alsans.ru</text>
</g>
</svg>
</body></html>
